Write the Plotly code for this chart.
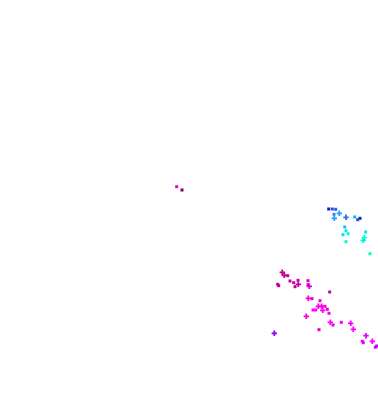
import plotly.graph_objects as go

# Data values (x, y) in data units; symbol and colour per point
sq_x = [3.287, 3.323, 3.357, 3.340, 3.547, 3.600, 3.577, 3.447, 3.460, 3.430, 3.480, 3.460, 3.657, 3.700,
        2.877, 2.777, 2.787, 2.900, 2.937, 2.980, 2.950, 3.080, 3.080, 3.297, 3.120, 3.200, 3.250, 3.130,
        3.157, 3.273, 3.290, 3.330, 3.413, 3.190, 3.623, 3.633, 3.767, 3.753, 1.767, 1.820]
sq_y = [1.970, 1.970, 1.967, 1.917, 1.890, 1.877, 1.863, 1.790, 1.753, 1.713, 1.723, 1.643, 1.740, 1.523,
        1.303, 1.217, 1.203, 1.250, 1.233, 1.257, 1.193, 1.253, 1.213, 1.140, 1.073, 1.053, 0.997, 0.960,
        0.960, 0.967, 0.927, 0.810, 0.837, 0.763, 0.647, 0.633, 0.600, 0.587, 2.193, 2.160]
sq_c = ["#1a1acc", "#2a50e0", "#3060e0", "#3080f0", "#10b0ff", "#1020c0", "#2050d0", "#10c0ff", "#10e0ff",
        "#00e0ff", "#00ffd0", "#00ffd0", "#00e8f0", "#00ffcc",
        "#c8009a", "#c0008a", "#c0008a", "#c8009a", "#d000a0", "#d800b0", "#c00090", "#e000c0", "#e000d0",
        "#c800a0", "#e800c8", "#f000e0", "#f000e0", "#ff00ff", "#ff00ff", "#e000d0", "#f000f0", "#e000e0",
        "#f000f0", "#e000d0", "#f000ff", "#f000ff", "#b000ff", "#e000ff", "#e000e0", "#800060"]

cr_x = [3.393, 3.343, 3.460, 3.643, 3.633,
        2.823, 2.843, 2.983, 3.093, 3.083, 3.183, 3.217, 3.227, 3.063, 3.303, 3.507, 3.533, 2.743, 3.660, 3.723]
cr_y = [1.927, 1.877, 1.887, 1.683, 1.657,
        1.337, 1.307, 1.217, 1.197, 1.077, 0.997, 0.997, 0.957, 0.897, 0.837, 0.827, 0.767, 0.727, 0.703, 0.647]
cr_c = ["#20a0ff", "#20a0ff", "#3070e0", "#00ffd0", "#00f0e0",
        "#c0008c", "#c0008c", "#c000a0", "#e000d0", "#ff00e0", "#ff00ff", "#f000e0", "#ff00ff", "#ff00e0",
        "#ff00ff", "#f800ff", "#ff00ff", "#9000ff", "#e000ff", "#ff00ff"]

fig = go.Figure()
fig.add_trace(go.Scatter(x=sq_x, y=sq_y, mode="markers",
                         marker=dict(symbol="square", size=3, color=sq_c, line=dict(width=0))))
fig.add_trace(go.Scatter(x=cr_x, y=cr_y, mode="markers",
                         marker=dict(symbol="cross", size=4.5, color=cr_c, line=dict(width=0))))

fig.update_layout(width=378, height=406, margin=dict(l=0, r=0, t=0, b=0),
                  paper_bgcolor="white", plot_bgcolor="white", showlegend=False,
                  xaxis=dict(range=[0, 3.78], visible=False),
                  yaxis=dict(range=[0, 4.06], visible=False))
fig.write_html("out.html")
